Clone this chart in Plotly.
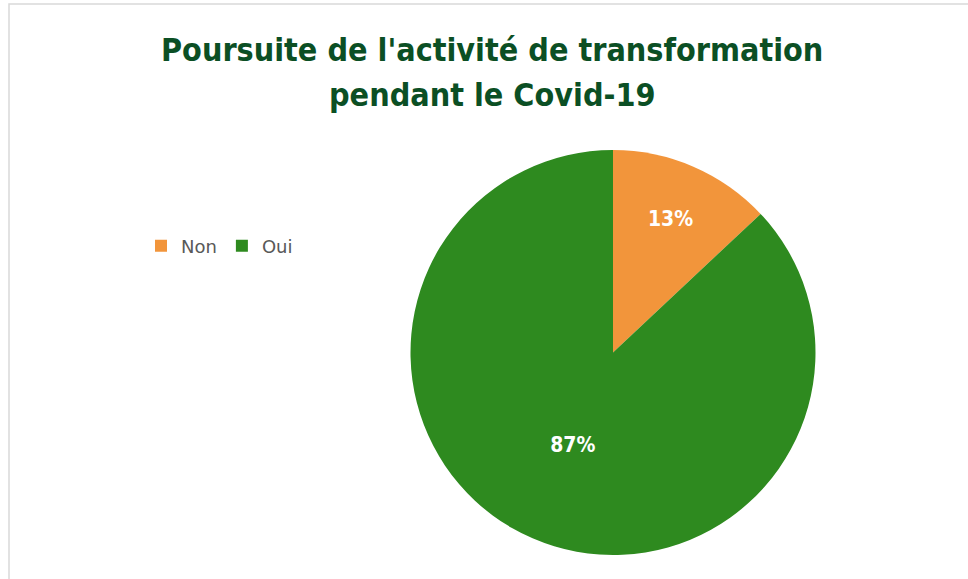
import plotly.graph_objects as go

labels = ["Non", "Oui"]
values = [13, 87]
colors = ["#F2953B", "#2E8A1F"]
title_lines = ["Poursuite de l'activité de transformation", "pendant le Covid-19"]

W, H = 968, 579
TITLE_FONT = "DejaVu Sans Condensed"

fig = go.Figure(go.Pie(
    labels=labels,
    values=values,
    marker=dict(colors=colors, line=dict(width=0)),
    sort=False,
    direction="clockwise",
    rotation=0,
    textinfo="percent",
    texttemplate="%{percent:.0%}",
    textposition="inside",
    insidetextorientation="horizontal",
    textfont=dict(family=TITLE_FONT, size=21, color="white", weight="bold"),
    domain=dict(x=[410.5 / W, 815.5 / W], y=[24 / H, 429 / H]),
    hoverinfo="label+percent",
))

title_y = [50, 95]
annotations = [
    dict(text=t, xref="paper", yref="paper", x=492 / W, y=1 - yy / H,
         xanchor="center", yanchor="middle", showarrow=False,
         font=dict(family=TITLE_FONT, size=32, color="#0B4F24", weight="bold"))
    for t, yy in zip(title_lines, title_y)
]

fig.update_layout(
    width=W, height=H,
    margin=dict(l=0, r=0, t=0, b=0),
    paper_bgcolor="white",
    plot_bgcolor="white",
    annotations=annotations,
    legend=dict(
        orientation="h",
        x=141 / W, xanchor="left",
        y=1 - 246 / H, yanchor="middle",
        font=dict(family="DejaVu Sans", size=18, color="#595959"),
        traceorder="normal",
        itemwidth=30,
    ),
    shapes=[dict(
        type="rect", xref="paper", yref="paper",
        x0=9 / W, x1=1.01, y0=-0.01, y1=1 - 4 / H,
        line=dict(color="#D9D9D9", width=1.5),
    )],
)

fig.write_html("out.html", config={"displayModeBar": False},
               post_script="document.body.style.margin='0px';")
